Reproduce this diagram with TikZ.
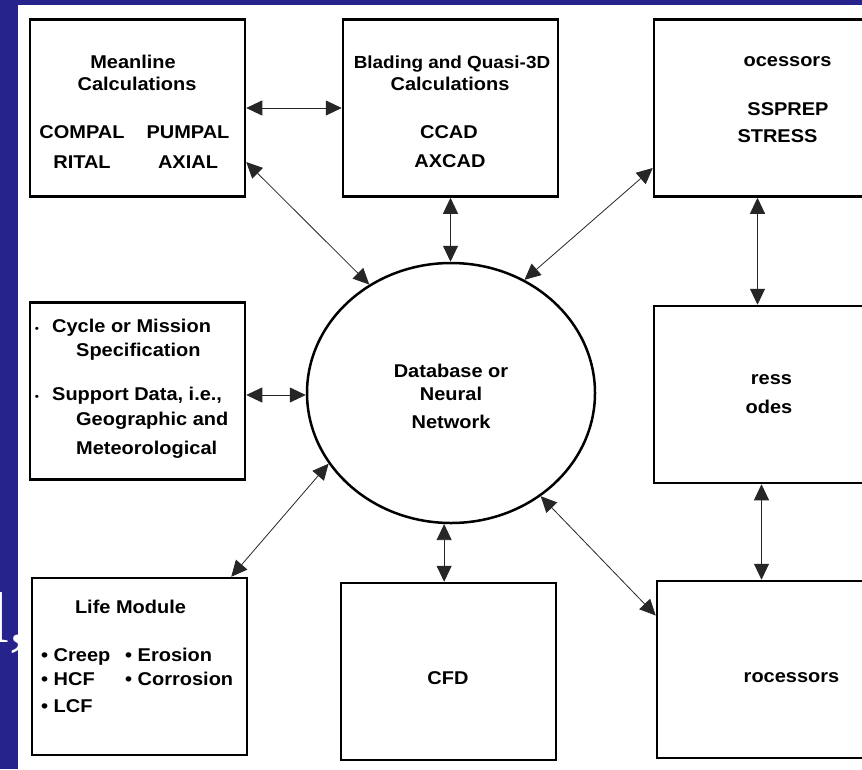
\documentclass[tikz,border=0pt]{standalone}
\usepackage{fontspec}
\setmainfont[FakeStretch=1.08]{Liberation Sans}
\newfontfamily\slidefont{Liberation Serif}
\usetikzlibrary{arrows.meta,positioning,shapes.geometric,calc}
\definecolor{slideblue}{RGB}{38,36,140}
\tikzset{
  box/.style={rectangle,draw=black,line width=2.5pt,fill=white,inner sep=0pt,
    minimum width=215pt,minimum height=177pt},
  dbase/.style={ellipse,draw=black,line width=2.5pt,fill=white,inner sep=0pt,
    minimum width=288pt,minimum height=260pt},
  txt/.style={font=\fontsize{18.5}{22}\selectfont\bfseries,inner sep=0pt,anchor=base},
  ltxt/.style={txt,anchor=base west},
  dot/.style={inner sep=0pt,anchor=base,font=\fontsize{11}{11}\selectfont},
  link/.style={<->,>={Triangle[length=16pt,width=15pt]},line width=0.8pt,draw=black!85}
}

\begin{document}
\begin{tikzpicture}[x=1pt,y=-1pt]
  \useasboundingbox (0,0) rectangle (862,769);
  \fill[slideblue] (0,0) rectangle (862,769);
  \node[font=\slidefont\fontsize{72}{72}\selectfont,text=white,inner sep=0pt,anchor=base west] (slidebit) at (-11,642) {l,};
  \fill[white] (18,5) rectangle (862,769);

  % boxes round the database
  \node[box] (meanline) at (137.5,108) {};
  \node[box,right=95.5pt of meanline] (blading) {};
  \node[box,right=93.5pt of blading] (pre) {};
  \node[box,below=103.5pt of meanline] (cycle) {};
  \node[box,below=96pt of cycle,xshift=2pt] (life) {};
  \node[box,right=91.5pt of life,yshift=-5pt] (cfd) {};
  \node[box,below=107pt of pre] (stress) {};
  \node[box,below=95.5pt of stress,xshift=3pt] (post) {};
  \node[dbase] (db) at (451,393) {};

  % texts
  \node[txt] (mlA) at (133,68) {Meanline};
  \node[txt] (mlB) at (137,90) {Calculations};
  \node[txt] (mlC) at (82,138) {COMPAL};
  \node[txt] (mlD) at (188,138) {PUMPAL};
  \node[txt] (mlE) at (82,168) {RITAL};
  \node[txt] (mlF) at (188,168) {AXIAL};
  \node[txt,font=\fontsize{17.5}{21}\selectfont\bfseries] (blA) at (452,68) {Blading and Quasi-3D};
  \node[txt] (blB) at (450,90) {Calculations};
  \node[txt] (blC) at (449,138) {CCAD};
  \node[txt] (blD) at (450,167) {AXCAD};
  \node[txt] (preA) at (787.5,66) {ocessors};
  \node[txt] (preB) at (788,115) {SSPREP};
  \node[txt] (preC) at (777.5,142) {STRESS};
  \node[dot] (cyDotA) at (37,332) {\textbullet};
  \node[ltxt] (cyA) at (52,332) {Cycle or Mission};
  \node[ltxt] (cyB) at (76,356) {Specification};
  \node[dot] (cyDotB) at (37,400) {\textbullet};
  \node[ltxt] (cyC) at (52,400) {Support Data, i.e.,};
  \node[ltxt] (cyD) at (76,425) {Geographic and};
  \node[ltxt] (cyE) at (76,454) {Meteorological};
  \node[txt] (dbA) at (451,377) {Database or};
  \node[txt] (dbB) at (451,400) {Neural};
  \node[txt] (dbC) at (451,428) {Network};
  \node[txt] (stA) at (771.5,384) {ress};
  \node[txt] (stB) at (769,413) {odes};
  \node[txt] (lfA) at (130.5,613) {Life Module};
  \node[ltxt] (lfB) at (41,661) {\textbullet\ Creep};
  \node[ltxt] (lfC) at (125,661) {\textbullet\ Erosion};
  \node[ltxt] (lfD) at (41,685) {\textbullet\ HCF};
  \node[ltxt] (lfE) at (125,685) {\textbullet\ Corrosion};
  \node[ltxt] (lfF) at (41,712) {\textbullet\ LCF};
  \node[txt] (cfdA) at (448,684) {CFD};
  \node[txt] (poA) at (791.5,682) {rocessors};

  % two-way links
  \draw[link] (meanline.east) -- (meanline.east -| blading.west);
  \draw[link] (blading.south) -- (blading.south |- db.north);
  \draw[link] ([yshift=-54pt]meanline.east) -- (db.127);
  \draw[link] ([yshift=-60pt]pre.west) -- (db.57);
  \draw[link] ([yshift=-4pt]cycle.east) -- ([yshift=-4pt]cycle.east -| db.west);
  \draw[link] ([xshift=-17pt]life.north east) -- (db.210);
  \draw[link] (db.267) -- (db.267 |- cfd.north);
  \draw[link] (db.311) -- ([yshift=54pt]post.west);
  \draw[link] ([xshift=-4pt]pre.south) -- ([xshift=-4pt]pre.south |- stress.north);
  \draw[link] (stress.south) -- (stress.south |- post.north);
\end{tikzpicture}
\end{document}
